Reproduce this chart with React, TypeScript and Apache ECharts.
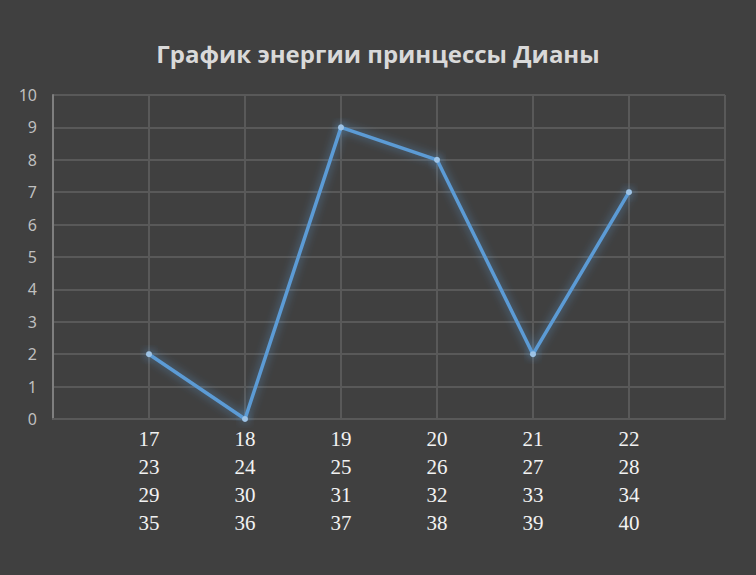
import React, { useEffect, useRef } from "react";
import * as echarts from "echarts";

const categories: string[] = ["", "17\n23\n29\n35", "18\n24\n30\n36", "19\n25\n31\n37", "20\n26\n32\n38", "21\n27\n33\n39", "22\n28\n34\n40", ""];
const energy: (number | null)[] = [null, 2, 0, 9, 8, 2, 7, null];
const titleText = "График энергии принцессы Дианы";

export default function App() {
  const ref = useRef<HTMLDivElement>(null);
  useEffect(() => {
    if (!ref.current) return;
    const chart = echarts.init(ref.current, undefined, { renderer: "svg" });
    chart.setOption({
      animation: false,
      backgroundColor: "#404040",
      title: {
        text: titleText,
        left: "center",
        top: 36,
        textStyle: { color: "#d9d9d9", fontSize: 24, fontWeight: "bold", fontFamily: "Open Sans" },
      },
      grid: { left: 53, right: 31, top: 95, bottom: 156 },
      xAxis: {
        type: "category",
        data: categories,
        boundaryGap: false,
        axisTick: { show: false },
        axisLine: { show: true, lineStyle: { color: "#595959", width: 2 } },
        splitLine: { show: true, lineStyle: { color: "#595959", width: 2 } },
        axisLabel: {
          color: "#f2f2f2",
          fontFamily: "Liberation Serif",
          fontSize: 21,
          lineHeight: 28,
          margin: 6,
          interval: 0,
        },
      },
      yAxis: {
        type: "value",
        min: 0,
        max: 10,
        interval: 1,
        axisLine: { show: true, lineStyle: { color: "#7f7f7f", width: 2 } },
        axisTick: { show: false },
        splitLine: { show: true, lineStyle: { color: "#595959", width: 2 } },
        axisLabel: { color: "#bfbfbf", fontFamily: "Noto Sans", fontSize: 16, margin: 16 },
      },
      series: [
        {
          type: "line",
          data: energy,
          connectNulls: false,
          symbol: "circle",
          symbolSize: 6,
          itemStyle: { color: "#9dc3e6", borderWidth: 0, shadowColor: "rgba(91,155,213,0.9)", shadowBlur: 10 },
          lineStyle: { color: "#5b9bd5", width: 3.5, shadowColor: "rgba(91,155,213,0.7)", shadowBlur: 10 },
        },
      ],
    });
    return () => chart.dispose();
  }, []);
  return <div ref={ref} style={{ width: 756, height: 575, position: "absolute", left: 0, top: 0 }} />;
}
